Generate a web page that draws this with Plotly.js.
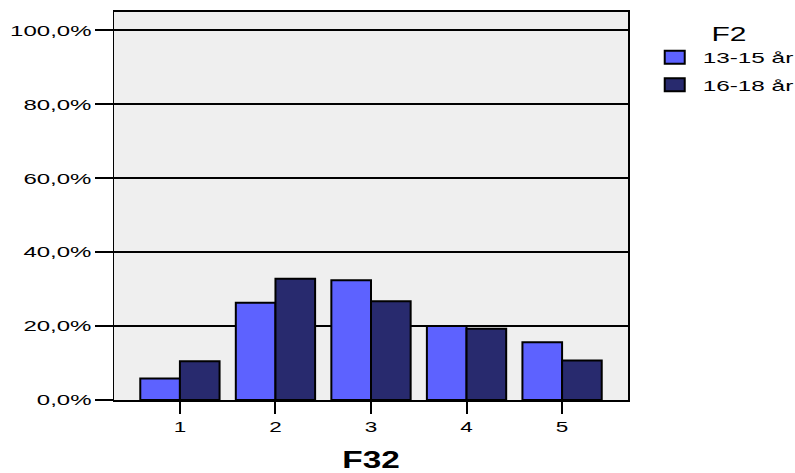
<!DOCTYPE html>
<html>
<head>
<meta charset="utf-8">
<script src="https://cdn.plot.ly/plotly-3.0.1.min.js"></script>
<style>html,body{margin:0;padding:0;background:#fff;}#chart{width:795px;height:473px;}</style>
</head>
<body>
<div id="chart"></div>
<script>
const categories = [1, 2, 3, 4, 5];
const seriesNames = ["13-15 år", "16-18 år"];
const values1315 = [5.8, 26.3, 32.4, 20.0, 15.6];
const values1618 = [10.5, 32.8, 26.7, 19.3, 10.7];
const yTicks = [0, 20, 40, 60, 80, 100];
const yTickText = ["0,0%", "20,0%", "40,0%", "60,0%", "80,0%", "100,0%"];
const xTitle = "F32";
const legendTitle = "F2";

const colors = ["#5d62ff", "#282a6e"];
const traces = [values1315, values1618].map((v, i) => ({
  type: "bar",
  x: categories,
  y: v,
  name: seriesNames[i],
  legendgroup: "g" + i,
  marker: {color: colors[i], line: {color: "#000000", width: 2}},
  hoverinfo: "x+y+name"
}));

const font = "Liberation Sans, Arial, sans-serif";
const layout = {
  width: 795, height: 473,
  margin: {l: 114, r: 167, t: 12, b: 73, pad: 0},
  paper_bgcolor: "#ffffff",
  plot_bgcolor: "#efefef",
  font: {family: font, color: "#000000", size: 15},
  barmode: "group",
  bargap: 0.17,
  bargroupgap: 0,
  showlegend: true,
  legend: {
    x: 1.052, xanchor: "left", y: 0.992, yanchor: "top",
    traceorder: "grouped", tracegroupgap: 5,
    font: {family: font, size: 15, color: "#000000"},
    title: {text: legendTitle, side: "top center", font: {family: font, size: 20, color: "#000000"}},
    bgcolor: "rgba(0,0,0,0)"
  },
  xaxis: {
    range: [0.31, 5.69],
    tickmode: "array",
    tickvals: categories,
    ticktext: categories.map(String),
    ticks: "outside", ticklen: 12, tickwidth: 2, tickcolor: "#000000",
    showgrid: false, zeroline: false,
    showline: true, mirror: true, linecolor: "#000000", linewidth: 2,
    tickfont: {family: font, size: 15, color: "#000000"},
    title: {text: xTitle, font: {family: font, size: 23, color: "#000000", weight: "bold"}, standoff: 19}
  },
  yaxis: {
    range: [0, 105],
    tickmode: "array",
    tickvals: yTicks,
    ticktext: yTickText,
    ticks: "outside", ticklen: 18, tickwidth: 2, tickcolor: "#000000",
    showgrid: true, gridcolor: "#000000", gridwidth: 2,
    zeroline: false,
    showline: true, mirror: true, linecolor: "#000000", linewidth: 1.5,
    tickfont: {family: font, size: 15, color: "#000000"}
  }
};

function stretch(t, f) {
  if (!t || !t.textContent) return;
  const len = t.getComputedTextLength();
  if (len > 0) {
    t.setAttribute("textLength", (len * f).toFixed(1));
    t.setAttribute("lengthAdjust", "spacingAndGlyphs");
  }
}

function postProcess(gd) {
  gd.querySelectorAll(".xtick text").forEach(t => stretch(t, 1.5));
  gd.querySelectorAll(".ytick text").forEach(t => stretch(t, 1.6));
  gd.querySelectorAll(".g-xtitle text").forEach(t => stretch(t, 1.45));
  const legend = gd.querySelector(".legend");
  if (!legend) return;
  legend.querySelectorAll("[clip-path]").forEach(el => el.removeAttribute("clip-path"));
  legend.querySelectorAll(".legendtext").forEach(t => {
    stretch(t, 1.62);
    t.setAttribute("x", (parseFloat(t.getAttribute("x") || 0) + 8).toFixed(1));
  });
  legend.querySelectorAll(".legendpoints path").forEach(p => {
    p.setAttribute("d", "M10,6.5H-10V-6.5H10Z");
  });
  const title = legend.querySelector(".legendtitletext");
  if (title) {
    stretch(title, 1.5);
    let minX = Infinity, maxX = -Infinity;
    legend.querySelectorAll(".legendpoints, .legendtext").forEach(it => {
      const r = it.getBoundingClientRect();
      if (r.width > 0) { minX = Math.min(minX, r.left); maxX = Math.max(maxX, r.right); }
    });
    const tr = title.getBoundingClientRect();
    const delta = (minX + maxX) / 2 - (tr.left + tr.right) / 2;
    title.setAttribute("x", (parseFloat(title.getAttribute("x") || 0) + delta).toFixed(1));
  }
}

Plotly.newPlot("chart", traces, layout, {displayModeBar: false, staticPlot: true})
  .then(gd => postProcess(gd));
</script>
</body>
</html>
